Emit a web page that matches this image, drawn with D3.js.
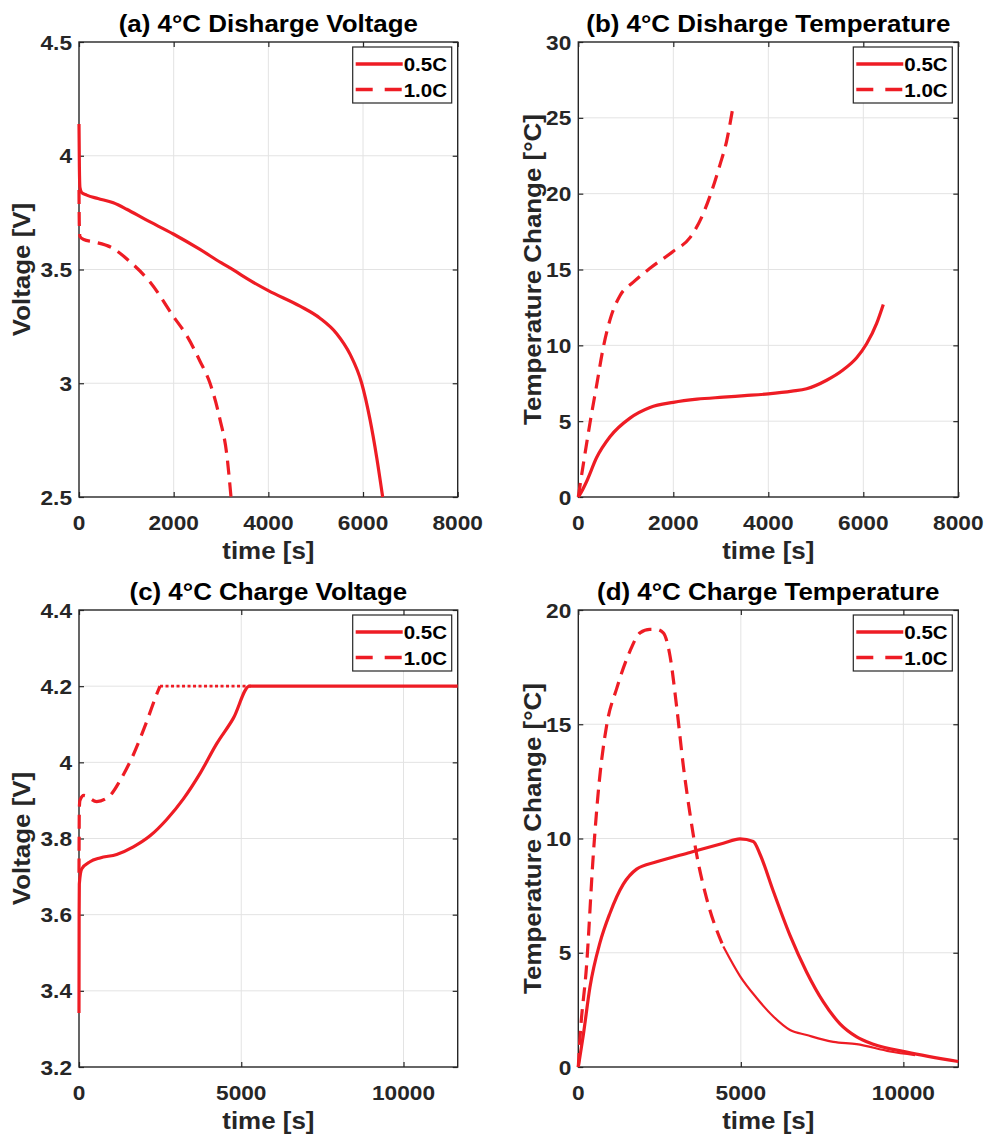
<!DOCTYPE html>
<html><head><meta charset="utf-8">
<script src="https://cdn.jsdelivr.net/npm/d3@7"></script>
<style>body{margin:0;background:#fff}</style>
</head><body><svg id="c" width="990" height="1137"></svg>
<script>
// ---------- data ----------
const aXTicks = [0, 2000, 4000, 6000, 8000];
const aYTicks = [2.5, 3, 3.5, 4, 4.5];
const bYTicks = [0, 5, 10, 15, 20, 25, 30];
const cXTicks = [0, 5000, 10000];
const cYTicks = [3.2, 3.4, 3.6, 3.8, 4, 4.2, 4.4];
const dYTicks = [0, 5, 10, 15, 20];
const seriesNames = ["0.5C", "1.0C"];

// (a) discharge voltage [time s, V]
const a05 = [[0,4.14],[8,3.95],[20,3.86],[56,3.838],[163,3.827],[400,3.812],[725,3.793],[1007,3.765],[1400,3.72],[1993,3.656],[2556,3.588],[3000,3.53],[3260,3.498],[3612,3.452],[4000,3.407],[4669,3.339],[5091,3.286],[5444,3.218],[5725,3.128],[5972,3.0],[6148,2.84],[6289,2.674],[6415,2.5]];
const a10 = [[0,3.85],[6,3.70],[20,3.645],[100,3.632],[302,3.622],[700,3.595],[1100,3.53],[1500,3.445],[1993,3.294],[2275,3.21],[2556,3.097],[2768,3.0],[2979,2.84],[3120,2.69],[3211,2.5]];
// (b) discharge temperature change [time s, °C]
const b05 = [[0,0],[60,0.3],[175,1.02],[386,2.6],[667,3.97],[1088,5.2],[1509,5.9],[2000,6.24],[2500,6.45],[3053,6.58],[3500,6.68],[4000,6.8],[4500,6.98],[4807,7.14],[5228,7.7],[5579,8.39],[5860,9.18],[6070,10.1],[6281,11.45],[6421,12.7]];
const b10 = [[0,0],[105,2.15],[246,4.88],[386,7.37],[526,9.86],[667,11.68],[877,13.27],[1158,14.17],[1509,15.08],[2000,16.2],[2351,17.1],[2632,18.7],[2772,19.84],[2982,21.9],[3123,23.47],[3263,25.85]];
// (c) charge voltage
const c05 = [[0,3.342],[4,3.60],[10,3.681],[82,3.72],[339,3.739],[647,3.749],[1161,3.758],[1675,3.778],[2189,3.807],[2703,3.85],[3217,3.904],[3731,3.971],[4244,4.049],[4758,4.116],[5252,4.2],[11670,4.2]];
const c10 = [[0,3.71],[10,3.88],[30,3.90],[150,3.913],[545,3.897],[956,3.913],[1264,3.952],[1675,4.02],[2086,4.107],[2395,4.179],[2497,4.2],[5300,4.2]];
// (d) charge temperature change
const d05 = [[0,0],[154,1.4],[359,3.5],[667,5.44],[974,6.73],[1385,8.0],[1795,8.66],[2410,8.98],[3436,9.39],[4462,9.79],[4974,9.98],[5384,9.87],[5590,9.31],[6000,7.69],[6513,5.76],[7026,4.15],[7538,2.85],[8051,1.89],[8564,1.32],[9077,1.0],[10103,0.65],[11690,0.24]];
const d10 = [[0,0],[51,1.24],[256,4.47],[462,9.3],[615,12.05],[872,14.95],[1180,16.56],[1590,18.2],[1897,19.0],[2200,19.15],[2410,19.15],[2615,19.0],[2820,18.0],[3026,15.76],[3231,13.18],[3436,11.08],[3641,9.3],[3949,7.37],[4462,5.27],[4974,3.98],[5487,3.02],[6000,2.21],[6513,1.62],[7026,1.4],[7846,1.1],[8564,1.0],[9590,0.68],[10359,0.52]];

// ---------- style ----------
const FONT = "'Liberation Sans', Arial, Helvetica, sans-serif";
const RED = "#ee1c24", AX = "#262626", GRID = "#e3e3e3";
const SX = 1.08;
const svg = d3.select("#c");

function txt(g, x, y, s, size, anchor, color, rot, dy) {
  const gg = g.append("g").attr("transform", `translate(${x},${y})` + (rot ? ` rotate(${rot})` : "") + ` scale(${SX},1)`);
  const t = gg.append("text").attr("text-anchor", anchor).attr("font-family", FONT)
    .attr("font-weight", "bold").attr("font-size", size).attr("fill", color).text(s);
  if (dy) t.attr("dy", dy);
  return t;
}

const panels = [
  {title:"(a) 4°C Disharge Voltage", ylabel:"Voltage [V]", L:79, R:457.7, T:42, B:497, xDom:[0,8000], yDom:[2.5,4.5], xt:aXTicks, yt:aYTicks, s05:a05, s10:a10, ylx:30, tail:null},
  {title:"(b) 4°C Disharge Temperature", ylabel:"Temperature Change [°C]", L:578.3, R:958.3, T:42, B:497, xDom:[0,8000], yDom:[0,30], xt:aXTicks, yt:bYTicks, s05:b05, s10:b10, ylx:541, tail:null},
  {title:"(c) 4°C Charge Voltage", ylabel:"Voltage [V]", L:79, R:457.7, T:610, B:1067, xDom:[0,11670], yDom:[3.2,4.4], xt:cXTicks, yt:cYTicks, s05:c05, s10:c10, ylx:30, tail:{at:2497, dash:"3,2.5", w:2.6}},
  {title:"(d) 4°C Charge Temperature", ylabel:"Temperature Change [°C]", L:578.3, R:958.3, T:610, B:1067, xDom:[0,11690], yDom:[0,20], xt:cXTicks, yt:dYTicks, s05:d05, s10:d10, ylx:541, tail:{at:4462, dash:null, w:2.2}}
];

panels.forEach(p => {
  const g = svg.append("g");
  const x = d3.scaleLinear().domain(p.xDom).range([p.L, p.R]);
  const y = d3.scaleLinear().domain(p.yDom).range([p.B, p.T]);

  // grid
  g.selectAll(null).data(p.xt.filter(v => v > p.xDom[0] && v < p.xDom[1])).enter().append("line")
    .attr("x1", d => x(d)).attr("x2", d => x(d)).attr("y1", p.T).attr("y2", p.B)
    .attr("stroke", GRID).attr("stroke-width", 1);
  g.selectAll(null).data(p.yt.filter(v => v > p.yDom[0] && v < p.yDom[1])).enter().append("line")
    .attr("y1", d => y(d)).attr("y2", d => y(d)).attr("x1", p.L).attr("x2", p.R)
    .attr("stroke", GRID).attr("stroke-width", 1);

  // axes (inner ticks on all four sides)
  const ax = g.append("g");
  ax.append("g").attr("transform", `translate(0,${p.B})`)
    .call(d3.axisBottom(x).tickValues(p.xt).tickSizeInner(-5).tickSizeOuter(0).tickFormat(""));
  ax.append("g").attr("transform", `translate(0,${p.T})`)
    .call(d3.axisTop(x).tickValues(p.xt).tickSizeInner(-5).tickSizeOuter(0).tickFormat(""));
  ax.append("g").attr("transform", `translate(${p.L},0)`)
    .call(d3.axisLeft(y).tickValues(p.yt).tickSizeInner(-5).tickSizeOuter(0).tickFormat(""));
  ax.append("g").attr("transform", `translate(${p.R},0)`)
    .call(d3.axisRight(y).tickValues(p.yt).tickSizeInner(-5).tickSizeOuter(0).tickFormat(""));
  ax.selectAll("path.domain").remove();
  ax.selectAll("line").attr("stroke", AX).attr("stroke-width", 1.2);
  g.append("rect").attr("x", p.L).attr("y", p.T).attr("width", p.R - p.L).attr("height", p.B - p.T)
    .attr("fill", "none").attr("stroke", AX).attr("stroke-width", 1.4);

  // tick labels
  p.xt.forEach(v => txt(g, x(v), p.B + 33, String(v), 21, "middle", AX));
  p.yt.forEach(v => txt(g, p.L - 7, y(v), String(v), 21, "end", AX, 0, "0.36em"));

  // labels & title
  txt(g, (p.L + p.R) / 2, p.T - 10, p.title, 24, "middle", "#000");
  txt(g, (p.L + p.R) / 2, p.B + 62, "time [s]", 24, "middle", AX);
  txt(g, p.ylx, (p.T + p.B) / 2, p.ylabel, 24, "middle", AX, -90);

  // lines
  const line = d3.line().x(d => x(d[0])).y(d => y(d[1])).curve(d3.curveMonotoneX);
  g.append("path").attr("d", line(p.s05)).attr("fill", "none").attr("stroke", RED)
    .attr("stroke-width", 3.2).attr("stroke-linejoin", "round");
  const head = p.tail ? p.s10.filter(d => d[0] <= p.tail.at) : p.s10;
  g.append("path").attr("d", line(head)).attr("fill", "none").attr("stroke", RED)
    .attr("stroke-width", 3.2).attr("stroke-dasharray", "14,8");
  if (p.tail) {
    const rest = p.s10.filter(d => d[0] >= p.tail.at);
    const tp = g.append("path").attr("d", line(rest)).attr("fill", "none").attr("stroke", RED)
      .attr("stroke-width", p.tail.w);
    if (p.tail.dash) tp.attr("stroke-dasharray", p.tail.dash);
  }

  // legend
  const lw = 99, lh = 56, lx = p.R - 6 - lw, ly = p.T + 5;
  const lg = g.append("g");
  lg.append("rect").attr("x", lx).attr("y", ly).attr("width", lw).attr("height", lh)
    .attr("fill", "#fff").attr("stroke", AX).attr("stroke-width", 1.2);
  seriesNames.forEach((nm, i) => {
    const ry = ly + 17 + i * 25.5;
    const l = lg.append("line").attr("x1", lx + 3).attr("x2", lx + 50).attr("y1", ry).attr("y2", ry)
      .attr("stroke", RED).attr("stroke-width", 3.6);
    if (i === 1) l.attr("stroke-dasharray", "17,12");
    txt(lg, lx + 51, ry + 7, nm, 19, "start", "#000");
  });
});
</script></body></html>
